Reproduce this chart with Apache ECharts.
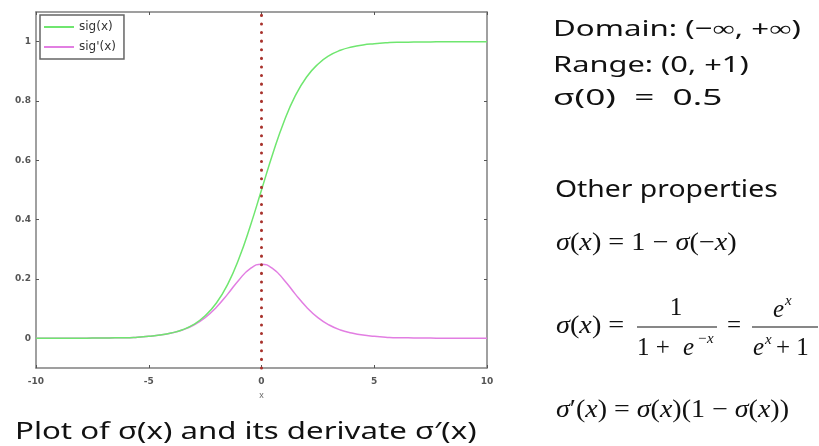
<!DOCTYPE html>
<html>
<head>
<meta charset="utf-8">
<script src="https://cdn.jsdelivr.net/npm/echarts@6/dist/echarts.min.js"></script>
<style>
html, body { margin: 0; padding: 0; background: #fff; }
#main { width: 819px; height: 446px; }
</style>
</head>
<body>
<div id="main"></div>
<script>
// x samples, step 0.5
const xValues = [-10, -9.5, -9, -8.5, -8, -7.5, -7, -6.5, -6, -5.5, -5, -4.5, -4, -3.5, -3, -2.5, -2, -1.5, -1, -0.5,
  0, 0.5, 1, 1.5, 2, 2.5, 3, 3.5, 4, 4.5, 5, 5.5, 6, 6.5, 7, 7.5, 8, 8.5, 9, 9.5, 10];
const sigValues = [0, 0, 0, 0, 0, 0.001, 0.001, 0.002, 0.002, 0.004, 0.007, 0.011, 0.018, 0.029, 0.047, 0.076, 0.119, 0.182, 0.269, 0.378,
  0.5, 0.622, 0.731, 0.818, 0.881, 0.924, 0.953, 0.971, 0.982, 0.989, 0.993, 0.996, 0.998, 0.998, 0.999, 0.999, 1, 1, 1, 1, 1];
const sigPrimeValues = [0, 0, 0, 0, 0, 0.001, 0.001, 0.002, 0.002, 0.004, 0.007, 0.011, 0.018, 0.028, 0.045, 0.070, 0.105, 0.149, 0.197, 0.235,
  0.25, 0.235, 0.197, 0.149, 0.105, 0.070, 0.045, 0.028, 0.018, 0.011, 0.007, 0.004, 0.002, 0.002, 0.001, 0.001, 0, 0, 0, 0, 0];
const yTicks = [0, 0.2, 0.4, 0.6, 0.8, 1];
const seriesNames = ['sig(x)', "sig'(x)"];
const seriesColors = ['#6fe66f', '#e27ee2'];
const markX = 0;

const chart = echarts.init(document.getElementById('main'));

const frame = { show: true, onZero: false, lineStyle: { color: '#808080', width: 1.5 } };
const tickIn = { show: true, inside: true, length: 3, lineStyle: { color: '#555' } };
const axisFont = { fontSize: 9, color: '#555', fontWeight: 'bold', fontFamily: 'DejaVu Sans' };
const hand = '"Noto Sans"';
const serif = '"Liberation Serif"';

// plain text helper, sx stretches the text sideways
function txt(x, y, text, font, sx, align) {
  return {
    type: 'text', x: x, y: y, scaleX: sx || 1,
    style: { text: text, font: font, fill: '#111', verticalAlign: 'middle', align: align || 'left' }
  };
}
function math(x, y, text, sx) {
  return {
    type: 'text', x: x, y: y, scaleX: sx || 1,
    style: {
      text: text, font: '25px ' + serif, fill: '#111', verticalAlign: 'middle',
      rich: { i: { fontStyle: 'italic', fontFamily: serif, fontSize: 25, fill: '#111' } }
    }
  };
}

chart.setOption({
  animation: false,
  backgroundColor: '#fff',
  grid: { left: 36, right: 332, top: 12, bottom: 78 },
  legend: {
    data: seriesNames.map(n => ({ name: n, icon: 'rect' })),
    orient: 'vertical',
    left: 40, top: 15,
    padding: [6, 8, 6, 4],
    itemGap: 8,
    itemWidth: 30,
    itemHeight: 2,
    borderColor: '#666',
    borderWidth: 1.5,
    textStyle: { fontSize: 12, color: '#333', fontFamily: 'DejaVu Sans' }
  },
  xAxis: [{
    type: 'value', min: -10, max: 10, interval: 5,
    name: 'x', nameLocation: 'middle', nameGap: 20,
    nameTextStyle: { fontSize: 9, color: '#666' },
    axisLine: frame, axisTick: tickIn,
    axisLabel: Object.assign({ margin: 9 }, axisFont),
    splitLine: { show: false }
  }, {
    type: 'value', min: -10, max: 10, interval: 5, position: 'top',
    axisLine: frame, axisTick: tickIn, axisLabel: { show: false }, splitLine: { show: false }
  }],
  yAxis: [{
    type: 'value', min: -0.1, max: 1.1,
    axisLine: frame,
    axisTick: Object.assign({ customValues: yTicks }, tickIn),
    axisLabel: Object.assign({ customValues: yTicks, margin: 5 }, axisFont),
    splitLine: { show: false }
  }, {
    type: 'value', min: -0.1, max: 1.1, position: 'right',
    axisLine: frame,
    axisTick: Object.assign({ customValues: yTicks }, tickIn),
    axisLabel: { show: false }, splitLine: { show: false }
  }],
  series: [{
    name: seriesNames[0], type: 'line', symbol: 'none', smooth: true,
    data: xValues.map((x, i) => [x, sigValues[i]]),
    lineStyle: { color: seriesColors[0], width: 1.5 },
    itemStyle: { color: seriesColors[0] },
    markLine: {
      silent: true, symbol: 'none', label: { show: false },
      lineStyle: { color: '#a8322c', type: [0.1, 8.5], width: 3, cap: 'round' },
      data: [{ xAxis: markX }]
    },
    z: 3
  }, {
    name: seriesNames[1], type: 'line', symbol: 'none', smooth: true,
    data: xValues.map((x, i) => [x, sigPrimeValues[i]]),
    lineStyle: { color: seriesColors[1], width: 1.5 },
    itemStyle: { color: seriesColors[1] },
    z: 2
  }],
  graphic: [
    txt(15, 432, 'Plot of σ(x) and its derivate σ′(x)', '24px ' + hand, 1.3),
    txt(553, 30, 'Domain: (−∞, +∞)', '22px ' + hand, 1.42),
    txt(553, 66, 'Range: (0, +1)', '22px ' + hand, 1.4),
    txt(553, 99, 'σ(0)  =  0.5', '22px ' + hand, 1.6),
    txt(555, 190, 'Other properties', '24px ' + hand, 1.18),
    math(556, 243, '{i|σ}({i|x}) = 1 − {i|σ}(−{i|x})', 1.13),
    math(556, 326, '{i|σ}({i|x}) =', 1.13),
    { type: 'line', shape: { x1: 637, y1: 327, x2: 717, y2: 327 }, style: { stroke: '#111', lineWidth: 1.2 } },
    txt(676, 308, '1', '25px ' + serif, 1, 'center'),
    txt(637, 348, '1 +', '25px ' + serif),
    txt(683, 348, 'e', 'italic 25px ' + serif),
    txt(697, 339, '−x', 'italic 15px ' + serif),
    txt(727, 326, '=', '25px ' + serif),
    { type: 'line', shape: { x1: 752, y1: 327, x2: 818, y2: 327 }, style: { stroke: '#111', lineWidth: 1.2 } },
    txt(773, 310, 'e', 'italic 25px ' + serif),
    txt(785, 301, 'x', 'italic 15px ' + serif),
    txt(753, 348, 'e', 'italic 25px ' + serif),
    txt(765, 340, 'x', 'italic 15px ' + serif),
    txt(776, 348, '+ 1', '25px ' + serif),
    math(556, 410, '{i|σ}′({i|x}) = {i|σ}({i|x})(1 − {i|σ}({i|x}))', 1.12)
  ]
});
</script>
</body>
</html>
